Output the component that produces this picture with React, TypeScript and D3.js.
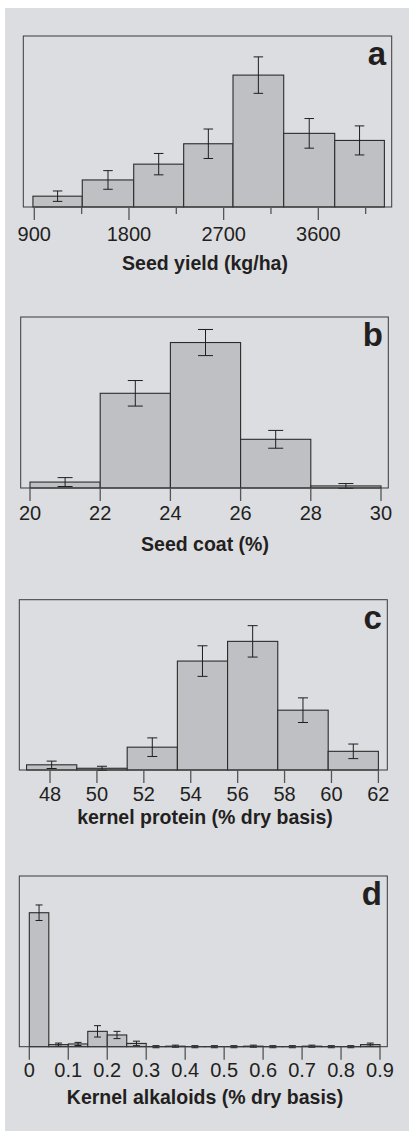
import React from "react";
import * as d3 from "d3";

// ---------- Data ----------
const yieldEdges = [887, 1356, 1845, 2320, 2789, 3271, 3756, 4228];
const yieldFreq = [2.6, 6.5, 10.3, 15.2, 31.7, 17.7, 16.0];
const yieldErr = [1.25, 2.24, 2.57, 3.54, 4.38, 3.56, 3.49];
const yieldTicks = [900, 1800, 2700, 3600];
const yieldMinorTicks = [1350, 2250, 3150, 4050];

const coatEdges = [20, 22, 24, 26, 28, 30];
const coatFreq = [2.0, 31.9, 49.0, 16.4, 0.7];
const coatErr = [1.5, 4.3, 4.4, 3.0, 0.8];
const coatTicks = [20, 22, 24, 26, 28, 30];

const proteinEdges = [47.0, 49.14, 51.29, 53.43, 55.57, 57.71, 59.86, 62.0];
const proteinFreq = [1.5, 0.5, 6.6, 31.5, 37.2, 17.3, 5.4];
const proteinErr = [1.07, 0.58, 2.69, 4.42, 4.54, 3.56, 2.11];
const proteinTicks = [48, 50, 52, 54, 56, 58, 60, 62];

const alkEdges = [0, 0.05, 0.1, 0.15, 0.2, 0.25, 0.3, 0.35, 0.4, 0.45, 0.5, 0.55, 0.6, 0.65, 0.7, 0.75, 0.8, 0.85, 0.9];
const alkFreq = [77.7, 1.2, 1.6, 8.9, 6.8, 1.9, 0, 0.3, 0, 0, 0, 0.3, 0, 0, 0.3, 0, 0, 1.2];
const alkErr = [4.5, 0.9, 0.9, 3.3, 2.1, 1.3, 0.6, 0.6, 0.6, 0.6, 0.6, 0.6, 0.6, 0.6, 0.6, 0.6, 0.6, 0.9];
const alkTicks = [0, 0.1, 0.2, 0.3, 0.4, 0.5, 0.6, 0.7, 0.8, 0.9];

// ---------- Styles ----------
const BG = "#dcdde0";
const BAR = "#bfc0c3";
const INK = "#231f20";
const FONT = "'Liberation Sans', Arial, Helvetica, sans-serif";

type PanelProps = {
  letter: string;
  title: string;
  edges: number[];
  freq: number[];
  err: number[];
  ticks: number[];
  minorTicks?: number[];
  xDomain: [number, number];
  yMax: number;
  box: { x0: number; x1: number; y0: number; y1: number };
  tickLabelDy: number;
  titleDy: number;
  cap: number;
  fmt?: (v: number) => string;
};

function Panel(p: PanelProps) {
  const { x0, x1, y0, y1 } = p.box;
  const x = d3.scaleLinear().domain(p.xDomain).range([x0, x1]);
  const y = d3.scaleLinear().domain([0, p.yMax]).range([y1, y0]);
  const fmt = p.fmt || ((v: number) => String(v));
  const bins = p.freq.map((f, i) => ({ a: p.edges[i], b: p.edges[i + 1], f, e: p.err[i] }));
  return (
    <g>
      <rect x={x0} y={y0} width={x1 - x0} height={y1 - y0} fill={BG} />
      {bins.map((d, i) => {
        const h = y(0) - y(d.f);
        return (
          <rect
            key={"b" + i}
            x={x(d.a)}
            y={y(d.f)}
            width={x(d.b) - x(d.a)}
            height={Math.max(h, 0.01)}
            fill={BAR}
            stroke="#2b2b2b"
            strokeWidth={1.1}
          />
        );
      })}
      {bins.map((d, i) => {
        const cx = (x(d.a) + x(d.b)) / 2;
        const top = y(d.f + d.e);
        const bot = y(d.f - d.e);
        return (
          <g key={"e" + i} stroke="#1e1e1e" strokeWidth={1}>
            <line x1={cx} x2={cx} y1={top} y2={bot} />
            <line x1={cx - p.cap / 2} x2={cx + p.cap / 2} y1={top} y2={top} />
            <line x1={cx - p.cap / 2} x2={cx + p.cap / 2} y1={bot} y2={bot} />
          </g>
        );
      })}
      <rect x={x0} y={y0} width={x1 - x0} height={y1 - y0} fill="none" stroke="#3a3a3a" strokeWidth={1} />
      {p.ticks.map((t, i) => (
        <line key={"t" + i} x1={x(t)} x2={x(t)} y1={y1} y2={y1 + 13} stroke="#555" strokeWidth={1.3} />
      ))}
      {(p.minorTicks || []).map((t, i) => (
        <line key={"m" + i} x1={x(t)} x2={x(t)} y1={y1} y2={y1 + 7} stroke="#555" strokeWidth={1.3} />
      ))}
      {p.ticks.map((t, i) => (
        <text
          key={"l" + i}
          x={x(t)}
          y={y1 + p.tickLabelDy}
          textAnchor="middle"
          fontFamily={FONT}
          fontSize={20}
          fill={INK}
        >
          {fmt(t)}
        </text>
      ))}
      <text
        x={205}
        y={y1 + p.titleDy}
        textAnchor="middle"
        fontFamily={FONT}
        fontWeight="bold"
        fontSize={19.5}
        fill={INK}
      >
        {p.title}
      </text>
      <text
        x={x1 - 5.5}
        y={y0 + 29}
        textAnchor="end"
        fontFamily={FONT}
        fontWeight="bold"
        fontSize={33}
        fill={INK}
      >
        {p.letter}
      </text>
    </g>
  );
}

export default function App() {
  return (
    <svg
      width={409}
      height={1131}
      style={{ position: "absolute", left: 0, top: 0, background: "#fff" }}
    >
      <rect x={5} y={8} width={404} height={1123} fill={BG} />
      <Panel
        letter="a"
        title="Seed yield (kg/ha)"
        edges={yieldEdges}
        freq={yieldFreq}
        err={yieldErr}
        ticks={yieldTicks}
        minorTicks={yieldMinorTicks}
        xDomain={[795.4, 4297.6]}
        yMax={41.1}
        box={{ x0: 23.3, x1: 391.7, y0: 36, y1: 207 }}
        tickLabelDy={34}
        titleDy={63}
        cap={9.5}
      />
      <Panel
        letter="b"
        title="Seed coat (%)"
        edges={coatEdges}
        freq={coatFreq}
        err={coatErr}
        ticks={coatTicks}
        xDomain={[19.735, 30.208]}
        yMax={57.6}
        box={{ x0: 20.7, x1: 388.3, y0: 317, y1: 488 }}
        tickLabelDy={32}
        titleDy={63}
        cap={15}
      />
      <Panel
        letter="c"
        title="kernel protein (% dry basis)"
        edges={proteinEdges}
        freq={proteinFreq}
        err={proteinErr}
        ticks={proteinTicks}
        xDomain={[46.69, 62.38]}
        yMax={49.25}
        box={{ x0: 19.3, x1: 387.3, y0: 599.7, y1: 770 }}
        tickLabelDy={31}
        titleDy={54}
        cap={10}
      />
      <Panel
        letter="d"
        title="Kernel alkaloids (% dry basis)"
        edges={alkEdges}
        freq={alkFreq}
        err={alkErr}
        ticks={alkTicks}
        xDomain={[-0.0257, 0.9187]}
        yMax={99}
        box={{ x0: 19.3, x1: 387.3, y0: 876, y1: 1046.7 }}
        tickLabelDy={30}
        titleDy={57}
        cap={7}
        fmt={(v) => (v === 0 ? "0" : d3.format(".1f")(v))}
      />
    </svg>
  );
}
